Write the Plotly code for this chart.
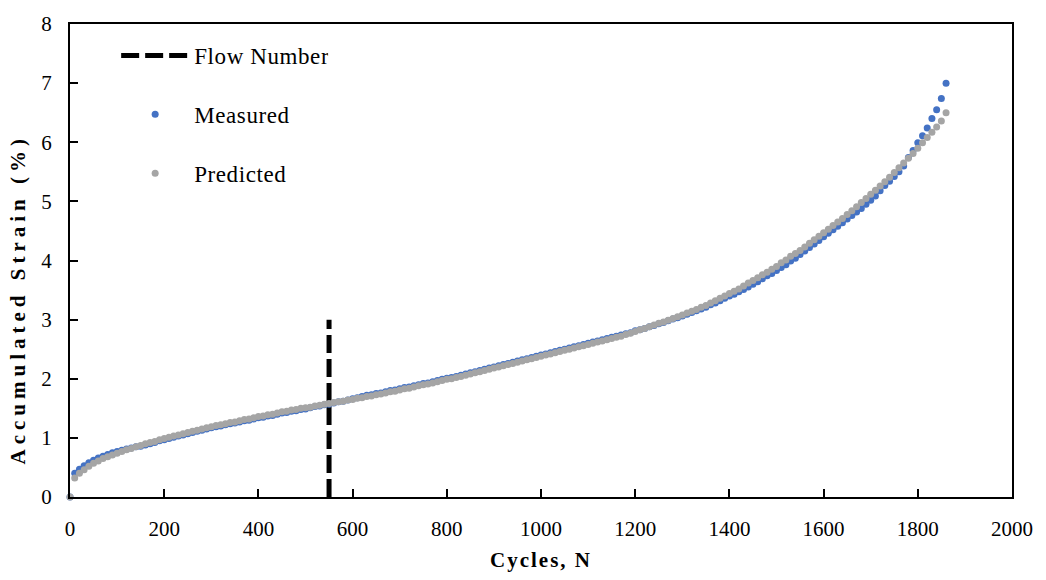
import plotly.graph_objects as go

# ---------------- data ----------------
cycles = [
    0, 10, 20, 30, 40, 50, 60, 70, 80, 90,
    100, 110, 120, 130, 140, 150, 160, 170, 180, 190,
    200, 210, 220, 230, 240, 250, 260, 270, 280, 290,
    300, 310, 320, 330, 340, 350, 360, 370, 380, 390,
    400, 410, 420, 430, 440, 450, 460, 470, 480, 490,
    500, 510, 520, 530, 540, 550, 560, 570, 580, 590,
    600, 610, 620, 630, 640, 650, 660, 670, 680, 690,
    700, 710, 720, 730, 740, 750, 760, 770, 780, 790,
    800, 810, 820, 830, 840, 850, 860, 870, 880, 890,
    900, 910, 920, 930, 940, 950, 960, 970, 980, 990,
    1000, 1010, 1020, 1030, 1040, 1050, 1060, 1070, 1080, 1090,
    1100, 1110, 1120, 1130, 1140, 1150, 1160, 1170, 1180, 1190,
    1200, 1210, 1220, 1230, 1240, 1250, 1260, 1270, 1280, 1290,
    1300, 1310, 1320, 1330, 1340, 1350, 1360, 1370, 1380, 1390,
    1400, 1410, 1420, 1430, 1440, 1450, 1460, 1470, 1480, 1490,
    1500, 1510, 1520, 1530, 1540, 1550, 1560, 1570, 1580, 1590,
    1600, 1610, 1620, 1630, 1640, 1650, 1660, 1670, 1680, 1690,
    1700, 1710, 1720, 1730, 1740, 1750, 1760, 1770, 1780, 1790,
    1800, 1810, 1820, 1830, 1840, 1850, 1860,
]

measured = [
    0.00, 0.40, 0.47, 0.53, 0.58, 0.62, 0.66, 0.69, 0.72, 0.75,
    0.77, 0.79, 0.81, 0.83, 0.85, 0.86, 0.88, 0.90, 0.92, 0.95,
    0.97, 0.99, 1.01, 1.03, 1.05, 1.07, 1.09, 1.11, 1.13, 1.15,
    1.17, 1.19, 1.20, 1.22, 1.24, 1.25, 1.27, 1.29, 1.30, 1.32,
    1.34, 1.35, 1.37, 1.38, 1.40, 1.42, 1.43, 1.45, 1.46, 1.48,
    1.49, 1.51, 1.53, 1.54, 1.56, 1.57, 1.59, 1.61, 1.62, 1.64,
    1.66, 1.68, 1.70, 1.72, 1.73, 1.75, 1.76, 1.78, 1.80, 1.81,
    1.83, 1.85, 1.86, 1.88, 1.90, 1.92, 1.93, 1.95, 1.97, 1.99,
    2.01, 2.02, 2.04, 2.06, 2.08, 2.10, 2.12, 2.14, 2.16, 2.18,
    2.20, 2.22, 2.24, 2.26, 2.28, 2.30, 2.32, 2.34, 2.36, 2.38,
    2.40, 2.42, 2.44, 2.46, 2.48, 2.50, 2.52, 2.54, 2.56, 2.58,
    2.60, 2.62, 2.64, 2.66, 2.68, 2.70, 2.72, 2.74, 2.76, 2.78,
    2.81, 2.83, 2.85, 2.88, 2.90, 2.93, 2.95, 2.98, 3.01, 3.03,
    3.06, 3.09, 3.12, 3.15, 3.18, 3.21, 3.25, 3.28, 3.32, 3.36,
    3.40, 3.43, 3.47, 3.51, 3.55, 3.60, 3.64, 3.69, 3.74, 3.78,
    3.83, 3.88, 3.93, 3.99, 4.04, 4.10, 4.16, 4.22, 4.28, 4.34,
    4.40, 4.46, 4.52, 4.58, 4.64, 4.70, 4.76, 4.82, 4.88, 4.95,
    5.02, 5.09, 5.18, 5.27, 5.34, 5.42, 5.50, 5.60, 5.74, 5.86,
    5.99, 6.11, 6.24, 6.40, 6.55, 6.74, 7.00,
]

predicted = [
    0.00, 0.32, 0.40, 0.46, 0.52, 0.57, 0.61, 0.65, 0.68, 0.71,
    0.74, 0.77, 0.80, 0.82, 0.85, 0.87, 0.90, 0.92, 0.94, 0.97,
    0.99, 1.01, 1.03, 1.05, 1.07, 1.09, 1.11, 1.13, 1.15, 1.17,
    1.19, 1.21, 1.22, 1.24, 1.26, 1.27, 1.29, 1.31, 1.32, 1.34,
    1.36, 1.37, 1.39, 1.40, 1.42, 1.44, 1.45, 1.47, 1.48, 1.50,
    1.51, 1.52, 1.54, 1.55, 1.57, 1.58, 1.60, 1.61, 1.62, 1.64,
    1.65, 1.67, 1.68, 1.70, 1.71, 1.73, 1.74, 1.76, 1.78, 1.79,
    1.81, 1.83, 1.84, 1.86, 1.88, 1.90, 1.91, 1.93, 1.95, 1.97,
    1.99, 2.00, 2.02, 2.04, 2.06, 2.08, 2.10, 2.12, 2.14, 2.16,
    2.18, 2.20, 2.22, 2.24, 2.26, 2.28, 2.30, 2.32, 2.34, 2.36,
    2.38, 2.40, 2.42, 2.44, 2.46, 2.48, 2.50, 2.52, 2.54, 2.56,
    2.58, 2.60, 2.62, 2.64, 2.66, 2.68, 2.70, 2.72, 2.75, 2.77,
    2.80, 2.83, 2.85, 2.88, 2.91, 2.94, 2.96, 2.99, 3.02, 3.05,
    3.08, 3.11, 3.14, 3.17, 3.21, 3.24, 3.28, 3.32, 3.36, 3.40,
    3.44, 3.48, 3.52, 3.57, 3.62, 3.66, 3.71, 3.76, 3.80, 3.85,
    3.90, 3.96, 4.01, 4.07, 4.12, 4.17, 4.23, 4.29, 4.35, 4.41,
    4.47, 4.53, 4.59, 4.65, 4.71, 4.78, 4.84, 4.91, 4.98, 5.05,
    5.12, 5.19, 5.26, 5.33, 5.41, 5.49, 5.57, 5.65, 5.73, 5.81,
    5.90, 5.99, 6.08, 6.17, 6.26, 6.36, 6.50,
]

flow_number_x = [550, 550]
flow_number_y = [0, 3]

x_ticks = [0, 200, 400, 600, 800, 1000, 1200, 1400, 1600, 1800, 2000]
y_ticks = [0, 1, 2, 3, 4, 5, 6, 7, 8]

SERIF = "Liberation Serif, Times New Roman, serif"

fig = go.Figure()
fig.add_trace(go.Scatter(
    x=flow_number_x, y=flow_number_y, mode="lines", name="Flow Number",
    line=dict(color="black", width=5, dash="18px,6px"),
    legendgroup="g1", cliponaxis=False,
))
fig.add_trace(go.Scatter(
    x=cycles, y=measured, mode="markers", name="Measured",
    marker=dict(color="#4472C4", size=7, line=dict(width=0)),
    legendgroup="g2", cliponaxis=False,
))
fig.add_trace(go.Scatter(
    x=cycles, y=predicted, mode="markers", name="Predicted",
    marker=dict(color="#A5A5A5", size=7, line=dict(width=0)),
    legendgroup="g3", cliponaxis=False,
))

axis_common = dict(
    showgrid=False, zeroline=False, showline=True, linecolor="black",
    linewidth=2, mirror=True, ticks="inside", ticklen=8, tickwidth=1.5,
    tickcolor="black", tickfont=dict(family=SERIF, size=21, color="black"),
    ticklabelstandoff=12,
)

fig.update_layout(
    width=1046, height=580,
    margin=dict(l=70, r=34, t=14, b=83),
    paper_bgcolor="white", plot_bgcolor="white",
    font=dict(family=SERIF, color="black"),
    xaxis=dict(
        range=[0, 2000], tickvals=x_ticks, **axis_common,
        title=dict(text="<b>Cycles, N</b>", font=dict(family=SERIF, size=21), standoff=12),
    ),
    yaxis=dict(range=[0, 8], tickvals=y_ticks, **axis_common),
    legend=dict(
        x=0.049, y=0.979, xanchor="left", yanchor="top",
        font=dict(family=SERIF, size=23, color="black"),
        traceorder="grouped", tracegroupgap=26, itemwidth=68,
        bgcolor="rgba(0,0,0,0)",
    ),
    showlegend=True,
    annotations=[dict(
        text="<b>Accumulated Strain (%)</b>", textangle=-90,
        xref="paper", yref="paper", x=-0.055, y=0.418,
        xanchor="center", yanchor="middle", showarrow=False,
        font=dict(family=SERIF, size=21, color="black"),
    )],
)

post = """
var gd = document.getElementById('{plot_id}');
function styleTexts() {
  gd.querySelectorAll('.annotation-text').forEach(function (t) { t.style.letterSpacing = '5px'; });
  gd.querySelectorAll('.xtitle').forEach(function (t) { t.style.letterSpacing = '2px'; });
  gd.querySelectorAll('.legendtext').forEach(function (t) { t.style.letterSpacing = '0.6px'; });
}
styleTexts();
if (gd.on) { gd.on('plotly_afterplot', styleTexts); }
"""

fig.write_html("out.html", post_script=post)
